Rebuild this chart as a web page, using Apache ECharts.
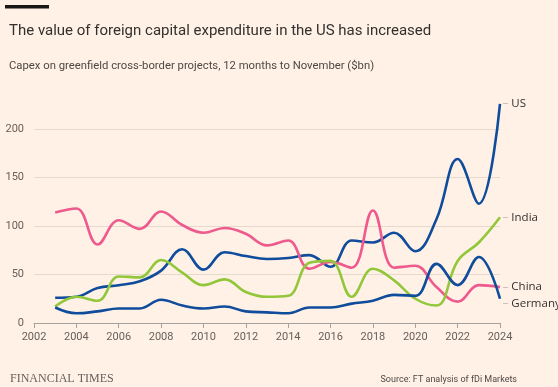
<!DOCTYPE html>
<html><head><meta charset="utf-8">
<script src="https://cdn.jsdelivr.net/npm/echarts@6/dist/echarts.min.js"></script>
<style>html,body{margin:0;padding:0;background:#fff1e5}#c{width:558px;height:387px}</style>
</head><body><div id="c"></div><script>
const years = [2003,2004,2005,2006,2007,2008,2009,2010,2011,2012,2013,2014,2015,2016,2017,2018,2019,2020,2021,2022,2023,2024];
const us      = [26,27,36,39,43,54,76,55,73,69,66,67,70,58,85,83,93,74,107,169,123,226];
const china   = [114,118,81,106,97,115,101,93,98,92,80,85,56,63,57,116,57,59,37,22,39,37];
const india   = [17,27,23,48,47,65,52,39,45,32,27,28,62,64,27,56,44,25,18,64,83,109];
const germany = [16,10,12,15,15,24,18,15,17,12,11,10,16,16,20,23,29,28,61,39,68,25];
const xTicks = [2002,2004,2006,2008,2010,2012,2014,2016,2018,2020,2022,2024];
const yTicks = [0,50,100,150,200];

const blue = '#0f4c9c', pink = '#ee5a8d', green = '#92c73b';
function mk(name, vals, color, off) {
  return {
    name, type: 'line', smooth: 0.4, symbol: 'none',
    data: years.map((y, i) => [y, vals[i]]),
    lineStyle: { color, width: 2.6 },
    itemStyle: { color },
    endLabel: {
      show: true, distance: 3, offset: off || [0, 0],
      formatter: '{l|–} {n|' + name + '}',
      rich: { l: { color: '#b5aaa1', fontSize: 9 }, n: { color: '#33302e', fontSize: 11.5, fontFamily: 'Open Sans' } }
    }
  };
}
const chart = echarts.init(document.getElementById('c'), null, { renderer: 'canvas' });
chart.setOption({
  backgroundColor: '#fff1e5',
  animation: false,
  title: [
    { text: 'The value of foreign capital expenditure in the US has increased', left: 4, top: 19,
      textStyle: { fontFamily: 'Roboto', fontWeight: 'normal', fontSize: 15, color: '#33302e' } },
    { text: 'Capex on greenfield cross-border projects, 12 months to November ($bn)', left: 4, top: 56,
      textStyle: { fontFamily: 'Roboto', fontWeight: 'normal', fontSize: 11.3, color: '#4d4845' } },
    { text: 'FINANCIAL TIMES', left: 5, top: 368,
      textStyle: { fontFamily: 'Liberation Serif', fontWeight: 'normal', fontSize: 12, color: '#66605c' } },
    { text: 'Source: FT analysis of fDi Markets', right: 36, top: 370,
      textStyle: { fontFamily: 'Roboto', fontWeight: 'normal', fontSize: 9, color: '#4d4845' } }
  ],
  graphic: [{ type: 'rect', left: 5, top: 5, shape: { width: 44, height: 3.5 }, style: { fill: '#1a1817' } }],
  grid: { left: 34, right: 58, top: 80.5, bottom: 64 },
  xAxis: {
    type: 'value', min: xTicks[0], max: xTicks[xTicks.length - 1], interval: 2,
    axisLine: { show: true, lineStyle: { color: '#a8a09a', width: 1 } },
    axisTick: { show: true, length: 5, lineStyle: { color: '#a8a09a' } },
    splitLine: { show: false },
    axisLabel: { color: '#66605c', fontSize: 11, margin: 9, fontFamily: 'Roboto', formatter: v => String(v) }
  },
  yAxis: {
    type: 'value', min: yTicks[0], max: 250, interval: 50,
    axisLine: { show: false }, axisTick: { show: false },
    splitLine: { show: true, showMinLine: false, showMaxLine: false, lineStyle: { color: '#e6d9ce', width: 1.2 } },
    axisLabel: { color: '#66605c', fontSize: 11, margin: 10, fontFamily: 'Roboto', showMaxLabel: false }
  },
  series: [
    mk('US', us, blue),
    mk('China', china, pink),
    mk('India', india, green),
    mk('Germany', germany, blue, [0, 5])
  ]
});
</script></body></html>
